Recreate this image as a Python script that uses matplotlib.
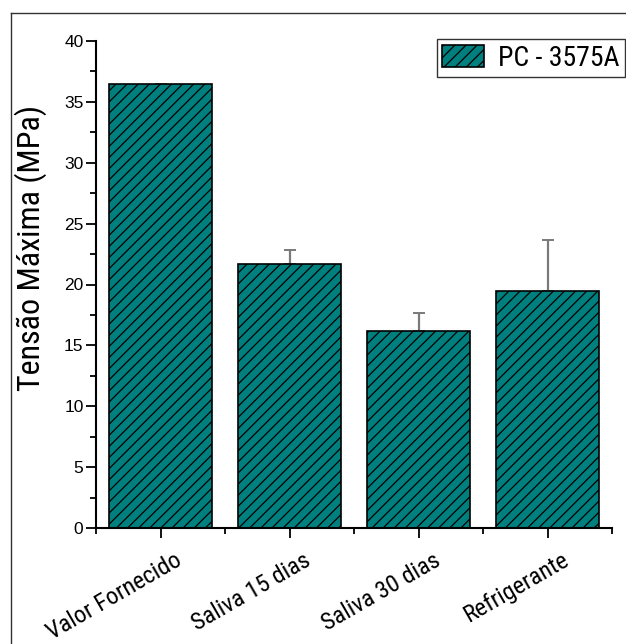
import matplotlib
matplotlib.use("Agg")
import matplotlib.pyplot as plt
from matplotlib.lines import Line2D
from matplotlib.patches import Patch
from matplotlib.transforms import ScaledTranslation
from matplotlib.ticker import MultipleLocator, FixedLocator

plt.rcParams['font.family'] = ['Liberation Sans', 'DejaVu Sans']
plt.rcParams['hatch.linewidth'] = 0.9
narrow = ['Roboto Condensed', 'Liberation Sans', 'DejaVu Sans']

categories = ["Valor Fornecido", "Saliva 15 dias", "Saliva 30 dias", "Refrigerante"]
tensao = [36.5, 21.7, 16.2, 19.45]
desvio = [0.0, 1.15, 1.45, 4.2]
serie = "PC - 3575A"

W, H = 626, 644
fig = plt.figure(figsize=(W / 100, H / 100), dpi=100)
ax = fig.add_axes([96 / W, 1 - 528 / H, (612 - 96) / W, (528 - 41) / H])

pos = list(range(1, len(categories) + 1))
teal = "#007f7f"
ax.bar(pos, tensao, width=0.8, color=teal, edgecolor="black",
       linewidth=1.2, hatch="///", zorder=2)
ax.errorbar(pos, tensao, yerr=[[0] * len(desvio), desvio], fmt="none",
            ecolor="#7a7a7a", elinewidth=1.6, capsize=4, capthick=1.4, zorder=1)

ax.set_xlim(0.5, 4.5)
ax.set_ylim(0, 40)
ax.xaxis.set_major_locator(FixedLocator(pos))
ax.xaxis.set_minor_locator(FixedLocator([p - 0.5 for p in pos] + [pos[-1] + 0.5]))
ax.yaxis.set_major_locator(MultipleLocator(5))
ax.yaxis.set_minor_locator(MultipleLocator(2.5))

for s in ("top", "right"):
    ax.spines[s].set_visible(False)
for s in ("left", "bottom"):
    ax.spines[s].set_linewidth(1.5)

ax.tick_params(axis="both", which="major", direction="out", length=7, width=1.3,
               labelsize=12.5)
ax.tick_params(axis="both", which="minor", direction="out", length=4, width=1.3)
ax.tick_params(axis="y", pad=2)

ax.set_xticklabels(categories, rotation=30, ha="right", va="top",
                   rotation_mode="anchor", fontsize=17.5, family=narrow)
shift = ScaledTranslation(14 / 100, -6 / 100, fig.dpi_scale_trans)
for lbl in ax.get_xticklabels():
    lbl.set_transform(lbl.get_transform() + shift)

ax.set_ylabel("Tensão Máxima (MPa)", fontsize=23, family=narrow)
ax.yaxis.set_label_coords(-0.095, 0.575)

handle = Patch(facecolor=teal, edgecolor="black", hatch="///", linewidth=1.2)
leg = fig.legend([handle], [serie], loc="upper right",
                 bbox_to_anchor=(625 / W, 1 - 39 / H),
                 prop={"family": narrow, "size": 20},
                 frameon=True, fancybox=False, edgecolor="black",
                 handlelength=1.5, handleheight=0.8, handletextpad=0.5,
                 borderpad=0.2, borderaxespad=0)
leg.get_frame().set_linewidth(1.0)

# outer frame lines along the top and left of the figure
fig.add_artist(Line2D([11 / W, 11 / W], [0, 1 - 13 / H], color="#333333",
                      linewidth=1.0, transform=fig.transFigure))
fig.add_artist(Line2D([11 / W, 1], [1 - 13 / H, 1 - 13 / H], color="#333333",
                      linewidth=1.0, transform=fig.transFigure))

fig.savefig("out.png", dpi=100)
